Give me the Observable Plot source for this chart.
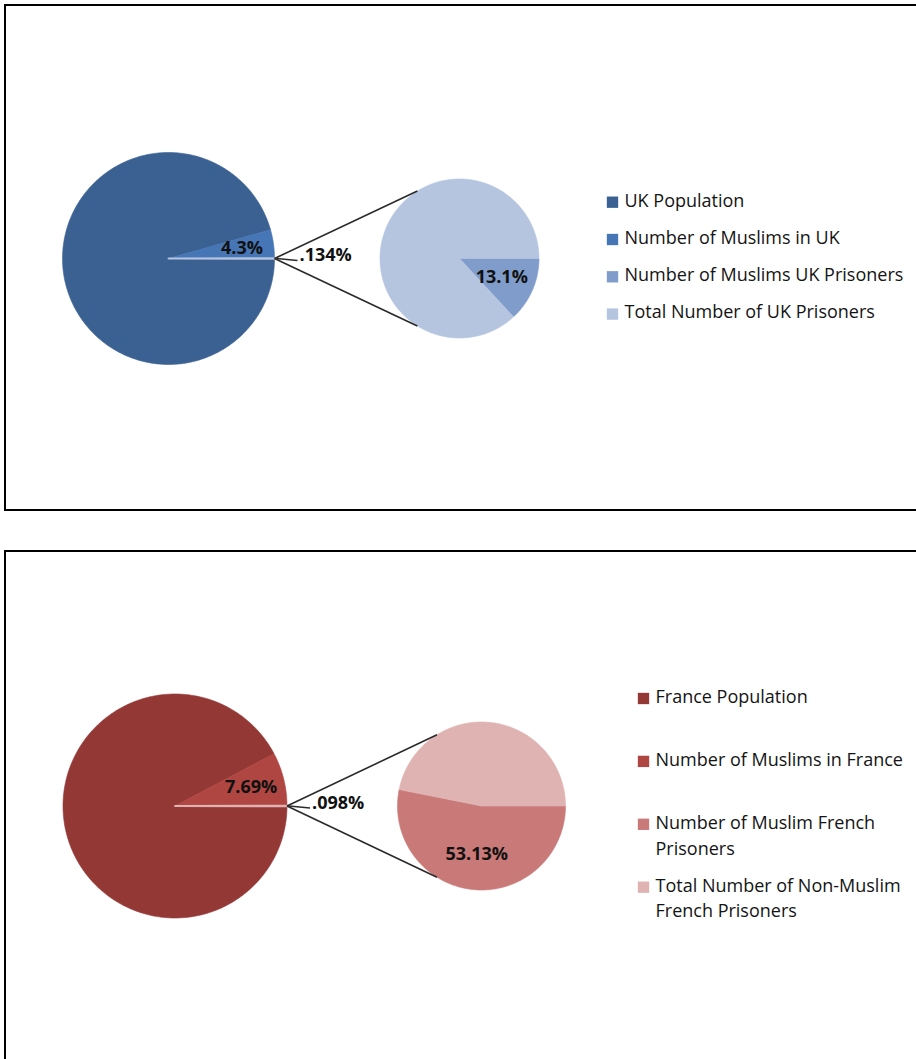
<!DOCTYPE html>
<html><head><meta charset="utf-8">
<script src="https://cdn.jsdelivr.net/npm/d3@7"></script>
<script src="https://cdn.jsdelivr.net/npm/@observablehq/plot@0.6"></script>
<style>
html,body{margin:0;padding:0;background:#fff;overflow:hidden;width:916px;height:1059px}
#wrap{position:relative;width:916px;height:1059px;overflow:hidden}
.panel{position:absolute;box-sizing:border-box;border:2px solid #000}
#chart{position:absolute;left:0;top:0}
</style></head><body>
<div id="wrap">
<div class="panel" style="left:4px;top:4px;width:920px;height:507px"></div>
<div class="panel" style="left:4px;top:550px;width:920px;height:530px"></div>
<div id="chart"></div>
</div>
<script>
// ---------- data ----------
const ukCategories = ["UK Population", "Number of Muslims in UK", "Number of Muslims UK Prisoners", "Total Number of UK Prisoners"];
const ukLegendText = ["UK Population", "Number of Muslims in UK", "Number of Muslims UK Prisoners", "Total Number of UK Prisoners"];
const ukMuslimShare = 4.3;        // % of UK population
const ukPrisonerShare = 0.134;    // % of UK population
const ukMuslimPrisonerShare = 13.1; // % of UK prisoners
const ukLabels = ["4.3%", ".134%", "13.1%"];

const frCategories = ["France Population", "Number of Muslims in France", "Number of Muslim French Prisoners", "Total Number of Non-Muslim French Prisoners"];
const frLegendText = ["France Population", "Number of Muslims in France", "Number of Muslim French\nPrisoners", "Total Number of Non-Muslim\nFrench Prisoners"];
const frMuslimShare = 7.69;
const frPrisonerShare = 0.098;
const frMuslimPrisonerShare = 53.13;
const frLabels = ["7.69%", ".098%", "53.13%"];

const ukColors = ["#3a6192", "#4776b6", "#7f9ccb", "#b5c4df"];
const frColors = ["#943836", "#b04642", "#c97978", "#dfb3b2"];

// ---------- layout ----------
const ukLayout = {cx: 168, cy: 258, r: 106, cx2: 459, r2: 79.5, legendX: 612, legendY: 201.7, legendStep: 37.3};
const frLayout = {cx: 174.5, cy: 805.5, r: 112, cx2: 481, r2: 84, legendX: 643, legendY: 698, legendStep: 62.9};

const FONT = 18;
const LABEL_FONT = 18;
const wedges = [], thin = [], links = [], leaders = [], labels = [], legendDots = [], legendTexts = [];
let wid = 0;
function wedge(cx, cy, r, a0, a1, key, target) {
  const id = wid++;
  const n = Math.max(2, Math.ceil(Math.abs(a1 - a0)));
  target.push({x: cx, y: cy, key, id});
  for (let i = 0; i <= n; i++) {
    const a = (a0 + (a1 - a0) * i / n) * Math.PI / 180;
    target.push({x: cx + r * Math.cos(a), y: cy - r * Math.sin(a), key, id});
  }
  target.push({x: cx, y: cy, key, id});
}
function panel(cats, legendText, muslim, prisoners, muslimPrisoners, lbls, L) {
  const sOther = prisoners / 100 * 360;
  const sMus = muslim / 100 * 360;
  const sMP = muslimPrisoners / 100 * 360;
  // main pie: prisoners slice centred on east, Muslims above it, population the rest
  wedge(L.cx, L.cy, L.r, sOther / 2 + sMus, 360 - sOther / 2, cats[0], wedges);
  wedge(L.cx, L.cy, L.r, sOther / 2, sOther / 2 + sMus, cats[1], wedges);
  wedge(L.cx, L.cy, L.r, -sOther / 2, sOther / 2, cats[3], thin);
  // secondary pie: Muslim prisoners clockwise from east, rest = other prisoners
  wedge(L.cx2, L.cy, L.r2, 0, -sMP, cats[2], wedges);
  wedge(L.cx2, L.cy, L.r2, -sMP, -360, cats[3], wedges);
  // connectors
  const ex = L.cx + L.r, ey = L.cy;
  for (const a of [122, -122]) {
    const t = a * Math.PI / 180;
    links.push({x1: ex, y1: ey, x2: L.cx2 + L.r2 * Math.cos(t), y2: L.cy - L.r2 * Math.sin(t)});
  }
  leaders.push({x1: ex + 2, y1: ey, x2: ex + 23, y2: ey + 2});
  // labels
  const midMain = (sOther / 2 + sMus / 2) * Math.PI / 180;
  labels.push({x: L.cx + 0.7 * L.r * Math.cos(midMain), y: L.cy - 0.7 * L.r * Math.sin(midMain), text: lbls[0], anchor: "middle"});
  labels.push({x: ex + 25, y: L.cy - 3, text: lbls[1], anchor: "start"});
  const midSec = (-sMP / 2) * Math.PI / 180;
  labels.push({x: L.cx2 + 0.58 * L.r2 * Math.cos(midSec), y: L.cy - 0.58 * L.r2 * Math.sin(midSec), text: lbls[2], anchor: "middle"});
  // legend
  cats.forEach((c, i) => {
    const y = L.legendY + i * L.legendStep;
    legendDots.push({x: L.legendX, y, key: c});
    legendTexts.push({x: L.legendX + 12, y: y - 0.78 * FONT, text: legendText[i]});
  });
}
panel(ukCategories, ukLegendText, ukMuslimShare, ukPrisonerShare, ukMuslimPrisonerShare, ukLabels, ukLayout);
panel(frCategories, frLegendText, frMuslimShare, frPrisonerShare, frMuslimPrisonerShare, frLabels, frLayout);

const chart = Plot.plot({
  width: 916, height: 1059, margin: 0,
  x: {type: "linear", domain: [0, 916], range: [0, 916], axis: null},
  y: {type: "linear", domain: [0, 1059], range: [0, 1059], axis: null},
  color: {type: "ordinal", domain: [...ukCategories, ...frCategories], range: [...ukColors, ...frColors]},
  style: {fontFamily: "'Open Sans', sans-serif", background: "transparent", overflow: "visible"},
  marks: [
    Plot.line(wedges, {x: "x", y: "y", z: "id", fill: "key", stroke: "key", strokeWidth: 0.6, curve: "linear"}),
    Plot.line(thin, {x: "x", y: "y", z: "id", fill: "key", stroke: "key", strokeWidth: 1.8, curve: "linear"}),
    Plot.link(links, {x1: "x1", y1: "y1", x2: "x2", y2: "y2", stroke: "#2a2a2a", strokeWidth: 1.6}),
    Plot.link(leaders, {x1: "x1", y1: "y1", x2: "x2", y2: "y2", stroke: "#2a2a2a", strokeWidth: 1.3}),
    Plot.text(labels.filter(d => d.anchor === "middle"), {x: "x", y: "y", text: "text", textAnchor: "middle", fontSize: LABEL_FONT, fontWeight: 700, fill: "#111"}),
    Plot.text(labels.filter(d => d.anchor === "start"), {x: "x", y: "y", text: "text", textAnchor: "start", fontSize: LABEL_FONT, fontWeight: 700, fill: "#111"}),
    Plot.dot(legendDots, {x: "x", y: "y", fill: "key", symbol: "square", r: 6.4, stroke: null}),
    Plot.text(legendTexts, {x: "x", y: "y", text: "text", textAnchor: "start", lineAnchor: "top", lineHeight: 1.44, fontSize: FONT, fill: "#141414"})
  ]
});
document.getElementById("chart").appendChild(chart);
</script>
</body></html>
